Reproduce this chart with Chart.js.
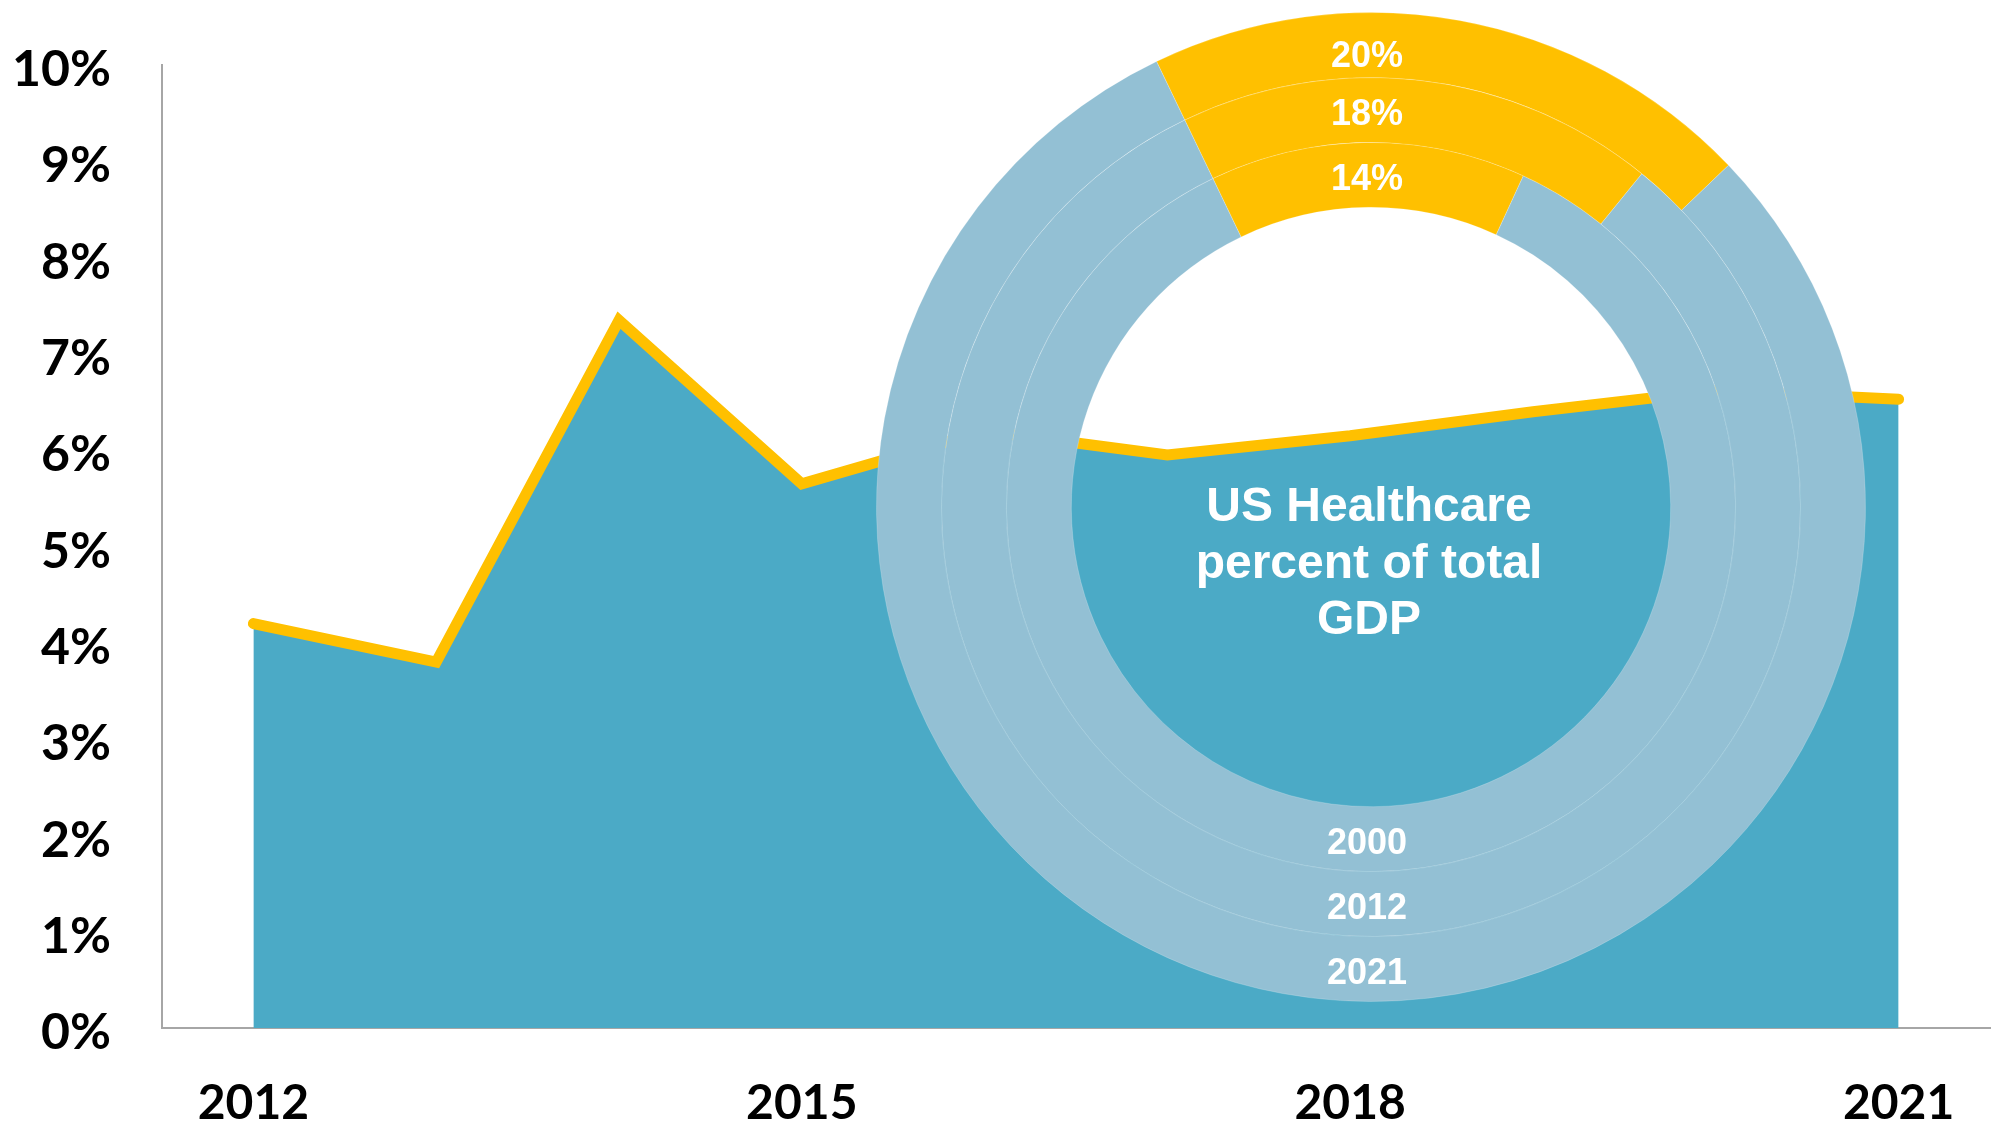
<!DOCTYPE html>
<html>
<head>
<meta charset="utf-8">
<script src="https://cdn.jsdelivr.net/npm/chart.js@4.4.1/dist/chart.umd.min.js"></script>
<style>
  html, body { margin: 0; padding: 0; background: #ffffff; }
  #wrap { position: relative; width: 1994px; height: 1127px; overflow: hidden; background: #ffffff; }
  #areaChart { position: absolute; left: 0; top: 0; }
  #ringChart { position: absolute; left: 876px; top: 12px; }
</style>
</head>
<body>
<div id="wrap">
  <canvas id="areaChart" width="1994" height="1127"></canvas>
  <canvas id="ringChart" width="990" height="990"></canvas>
</div>
<script>
// ---- data ----
const years = ['2012', '2013', '2014', '2015', '2016', '2017', '2018', '2019', '2020', '2021'];
const growthPct = [4.2, 3.8, 7.35, 5.65, 6.2, 5.95, 6.15, 6.4, 6.62, 6.53];
const shownYearLabels = ['2012', '2015', '2018', '2021'];
const yTickMin = 0;
const yTickMax = 10;
const yTickStep = 1;

const ringYears = ['2021', '2012', '2000'];      // outer -> inner
const ringShares = [20, 18, 14];                  // healthcare % of GDP
const centerTitle = ['US Healthcare', 'percent of total', 'GDP'];

// ---- colours ----
const AREA_FILL = '#4BAAC6';
const LINE_GOLD = '#FFC000';
const RING_LIGHT = '#93C0D4';
const AXIS_GREY = '#A6A6A6';

function startCharts() {
  new Chart(document.getElementById('areaChart'), {
    type: 'line',
    data: {
      labels: years,
      datasets: [{
        data: growthPct,
        borderColor: LINE_GOLD,
        backgroundColor: AREA_FILL,
        borderWidth: 11,
        borderCapStyle: 'round',
        borderJoinStyle: 'miter',
        fill: 'origin',
        pointRadius: 0,
        tension: 0
      }]
    },
    options: {
      responsive: false,
      animation: false,
      devicePixelRatio: 1,
      layout: { autoPadding: false, padding: { left: 0, right: 4, top: 65, bottom: 0 } },
      plugins: { legend: { display: false }, tooltip: { enabled: false } },
      scales: {
        x: {
          type: 'category',
          offset: true,
          grid: { display: false, drawTicks: false },
          border: { display: true, color: AXIS_GREY, width: 2 },
          ticks: {
            autoSkip: false,
            maxRotation: 0,
            padding: 47,
            color: '#000000',
            font: { family: 'Lato, "Open Sans", sans-serif', size: 48, weight: 'bold' },
            callback: function (v) {
              const lab = this.getLabelForValue(v);
              return shownYearLabels.includes(lab) ? lab : '';
            }
          },
          afterFit: (s) => { s.height = 99; s.paddingLeft = 0; s.paddingRight = 0; }
        },
        y: {
          min: yTickMin,
          max: yTickMax,
          grid: { display: false, drawTicks: false },
          border: { display: true, color: AXIS_GREY, width: 2 },
          ticks: {
            stepSize: yTickStep,
            padding: 51,
            labelOffset: 5,
            color: '#000000',
            font: { family: 'Lato, "Open Sans", sans-serif', size: 50, weight: 'bold' },
            callback: (v) => v + '%'
          },
          afterFit: (s) => { s.width = 162; s.paddingTop = 0; s.paddingBottom = 0; }
        }
      }
    }
  });

  const ringLabelPlugin = {
    id: 'ringLabels',
    afterDatasetsDraw(chart) {
      const ctx = chart.ctx;
      ctx.save();
      ctx.fillStyle = '#ffffff';
      ctx.textAlign = 'center';
      ctx.textBaseline = 'middle';
      ctx.font = 'bold 36px "Liberation Sans", Arial, sans-serif';
      let cx = 0, cy = 0;
      chart.data.datasets.forEach((ds, i) => {
        const arc = chart.getDatasetMeta(i).data[0];
        cx = arc.x; cy = arc.y;
        const mid = (arc.innerRadius + arc.outerRadius) / 2;
        const topNudge = i === 0 ? 12 : 5;
        ctx.fillText(ringShares[i] + '%', cx - 4, cy - mid + topNudge);
        ctx.fillText(ringYears[i], cx - 4, cy + mid + 5);
      });
      ctx.font = 'bold 48px "Liberation Sans", Arial, sans-serif';
      centerTitle.forEach((line, k) => {
        ctx.fillText(line, cx - 2, cy + 1 + k * 56.5);
      });
      ctx.restore();
    }
  };

  new Chart(document.getElementById('ringChart'), {
    type: 'doughnut',
    data: {
      labels: ['Healthcare', 'Rest of GDP'],
      datasets: ringShares.map((s, i) => ({
        label: ringYears[i],
        data: [s, 100 - s],
        backgroundColor: [LINE_GOLD, RING_LIGHT],
        borderColor: 'rgba(255,255,255,0.2)',
        borderWidth: 1
      }))
    },
    options: {
      responsive: false,
      animation: false,
      devicePixelRatio: 1,
      rotation: -25.7,
      cutout: '60.6%',
      layout: { padding: 0 },
      plugins: { legend: { display: false }, tooltip: { enabled: false } }
    },
    plugins: [ringLabelPlugin]
  });
}

if (document.fonts && document.fonts.load) {
  Promise.all([
    document.fonts.load('bold 47px Lato'),
    document.fonts.load('bold 36px "Liberation Sans"')
  ]).then(startCharts, startCharts);
} else {
  startCharts();
}
</script>
</body>
</html>
